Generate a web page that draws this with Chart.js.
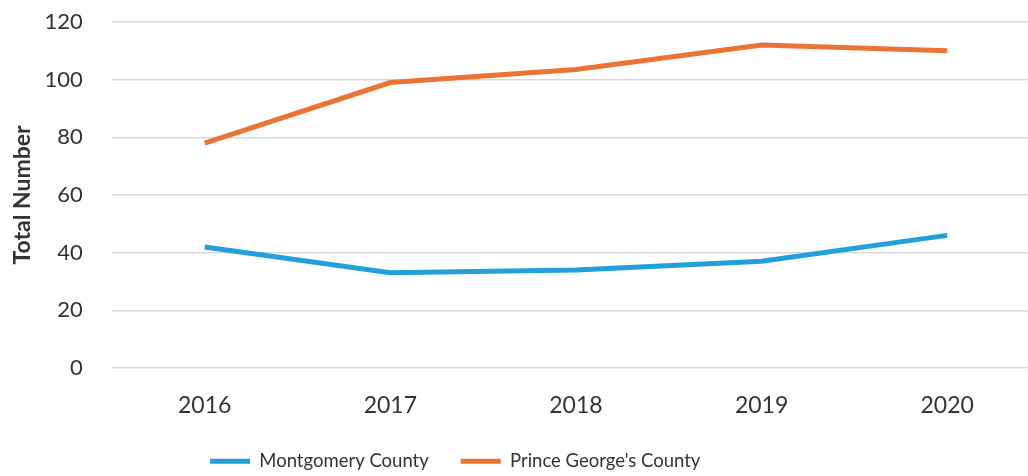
<!DOCTYPE html>
<html>
<head>
<meta charset="utf-8">
<script src="https://cdn.jsdelivr.net/npm/chart.js@4"></script>
<style>
  html, body { margin: 0; padding: 0; background: #fff; overflow: hidden; }
  #wrap { width: 1040px; height: 476px; }
</style>
</head>
<body>
<div id="wrap"><canvas id="myChart"></canvas></div>
<script>
// years on the x axis
var years = ['2016', '2017', '2018', '2019', '2020'];
// totals
var montgomery = [42, 33, 34, 37, 46];
var princeGeorges = [78, 99, 103.5, 112, 110];
var yTicks = [0, 20, 40, 60, 80, 100, 120];

var blue = '#21A0DB';
var orange = '#EB7434';
var textColor = '#333333';
var fontName = 'Lato';

// legend sits low and a bit left of centre, like the original
var legendTweak = {
    id: 'legendTweak',
    beforeLayout: function(chart) {
        var lg = chart.legend;
        if (lg && !lg._tweaked) {
            var fit = lg.fit;
            lg.fit = function() {
                fit.call(this);
                this.height = 56;
            };
            lg._tweaked = true;
        }
    },
    afterLayout: function(chart) {
        if (chart.legend) chart.legend.left = 178;
    }
};

var ctx = document.getElementById('myChart').getContext('2d');
new Chart(ctx, {
    type: 'line',
    data: {
        labels: years,
        datasets: [
            {
                label: 'Montgomery County',
                data: montgomery,
                borderColor: blue,
                backgroundColor: blue,
                borderWidth: 5,
                pointRadius: 0,
                tension: 0
            },
            {
                label: "Prince George's County",
                data: princeGeorges,
                borderColor: orange,
                backgroundColor: orange,
                borderWidth: 5,
                pointRadius: 0,
                tension: 0
            }
        ]
    },
    plugins: [legendTweak],
    options: {
        responsive: true,
        maintainAspectRatio: false,
        animation: false,
        layout: { padding: { top: 22, left: 9, right: 0, bottom: 0 } },
        plugins: {
            tooltip: { enabled: false },
            legend: {
                position: 'bottom',
                align: 'start',
                labels: {
                    color: textColor,
                    font: { family: fontName, size: 18.5 },
                    boxWidth: 40,
                    boxHeight: 5,
                    padding: 32,
                    generateLabels: function(chart) {
                        return Chart.defaults.plugins.legend.labels.generateLabels(chart).map(function(l) {
                            l.lineWidth = 0;
                            l.fillStyle = l.strokeStyle;
                            return l;
                        });
                    }
                }
            }
        },
        scales: {
            x: {
                offset: true,
                grid: { display: false, drawTicks: false },
                border: { display: false },
                afterFit: function(axis) { axis.height = 52; },
                ticks: {
                    color: textColor,
                    font: { family: fontName, size: 23 },
                    padding: 24
                }
            },
            y: {
                min: 0,
                max: 120,
                afterBuildTicks: function(axis) {
                    axis.ticks = yTicks.map(function(v) { return { value: v }; });
                },
                grid: {
                    color: '#D9D9D9',
                    lineWidth: 1.5,
                    drawTicks: true,
                    tickLength: 25,
                    tickColor: 'rgba(0,0,0,0)'
                },
                border: { display: false },
                ticks: {
                    color: textColor,
                    font: { family: fontName, size: 22 },
                    padding: 4
                },
                title: {
                    display: true,
                    text: 'Total Number',
                    color: textColor,
                    font: { family: fontName, size: 23, weight: 'bold' },
                    padding: { top: 0, bottom: 4 }
                }
            }
        }
    }
});
</script>
</body>
</html>
